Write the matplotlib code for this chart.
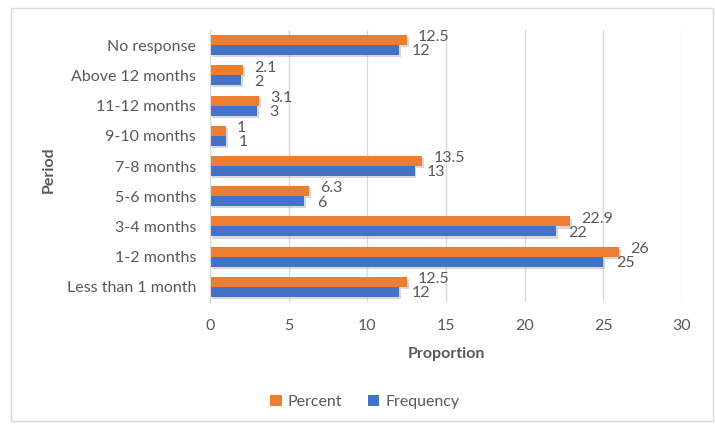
import numpy as np
import matplotlib.pyplot as plt
from matplotlib.patches import Rectangle

plt.rcParams['font.family'] = ['Lato', 'DejaVu Sans']

# data
periods = ['Less than 1 month', '1-2 months', '3-4 months', '5-6 months', '7-8 months',
           '9-10 months', '11-12 months', 'Above 12 months', 'No response']
percent = [12.5, 26, 22.9, 6.3, 13.5, 1, 3.1, 2.1, 12.5]
frequency = [12, 25, 22, 6, 13, 1, 3, 2, 12]
percent_lbl = ['12.5', '26', '22.9', '6.3', '13.5', '1', '3.1', '2.1', '12.5']
freq_lbl = ['12', '25', '22', '6', '13', '1', '3', '2', '12']

orange = '#ED7D31'
blue = '#4472C4'
grey = '#595959'
fs = 11.5

fig = plt.figure(figsize=(7.15, 4.26), dpi=100)
fig.patches.append(Rectangle((11/715, 1-421/426), 702/715, 413/426, transform=fig.transFigure,
                             fill=False, edgecolor='#D9D9D9', linewidth=1))
ax = fig.add_axes([210/715, 1-302/426, 472/715, 272/426])

y = np.arange(len(periods))
h = 0.33
# soft shadow
ax.barh(y + h/2 - 0.07, percent, height=h, color='#AAAAAA', alpha=0.45, left=0.12, zorder=1)
ax.barh(y - h/2 - 0.07, frequency, height=h, color='#AAAAAA', alpha=0.45, left=0.12, zorder=1)
ax.barh(y + h/2, percent, height=h, color=orange, label='Percent', zorder=2)
ax.barh(y - h/2, frequency, height=h, color=blue, label='Frequency', zorder=2)

for i in range(len(periods)):
    ax.annotate(percent_lbl[i], (percent[i], y[i] + h/2), xytext=(8, 2), textcoords='offset points',
                va='center', ha='left', fontsize=fs, color=grey, zorder=3)
    ax.annotate(freq_lbl[i], (frequency[i], y[i] - h/2), xytext=(9, -1), textcoords='offset points',
                va='center', ha='left', fontsize=fs, color=grey, zorder=3)

ax.set_xlim(0, 30)
ax.set_xticks(range(0, 31, 5))
ax.set_ylim(-0.5, len(periods) - 0.5)
ax.set_yticks(y)
ax.set_yticklabels(periods)
ax.tick_params(length=0, labelsize=fs, colors=grey)
ax.tick_params(axis='x', pad=12)
ax.tick_params(axis='y', pad=10)
ax.grid(axis='x', color='#D9D9D9', linewidth=1, zorder=0)
ax.set_axisbelow(True)
for s in ['top', 'right', 'bottom']:
    ax.spines[s].set_visible(False)
ax.spines['left'].set_color('#D9D9D9')

ax.set_xlabel('Proportion', fontsize=fs, fontweight='bold', color=grey)
ax.xaxis.set_label_coords(446/715, 1-347/426, transform=fig.transFigure)
ax.set_ylabel('Period', fontsize=fs, fontweight='bold', color=grey)
ax.yaxis.set_label_coords(56/715, 1-170/426, transform=fig.transFigure)

handles, labels = ax.get_legend_handles_labels()
fig.legend(handles, labels, loc='center', bbox_to_anchor=(365/715, 1-402/426), ncol=2,
           frameon=False, fontsize=fs, handlelength=0.7, handleheight=0.7,
           handletextpad=0.4, columnspacing=1.6, labelcolor=grey)

fig.savefig('out.png', dpi=100)
